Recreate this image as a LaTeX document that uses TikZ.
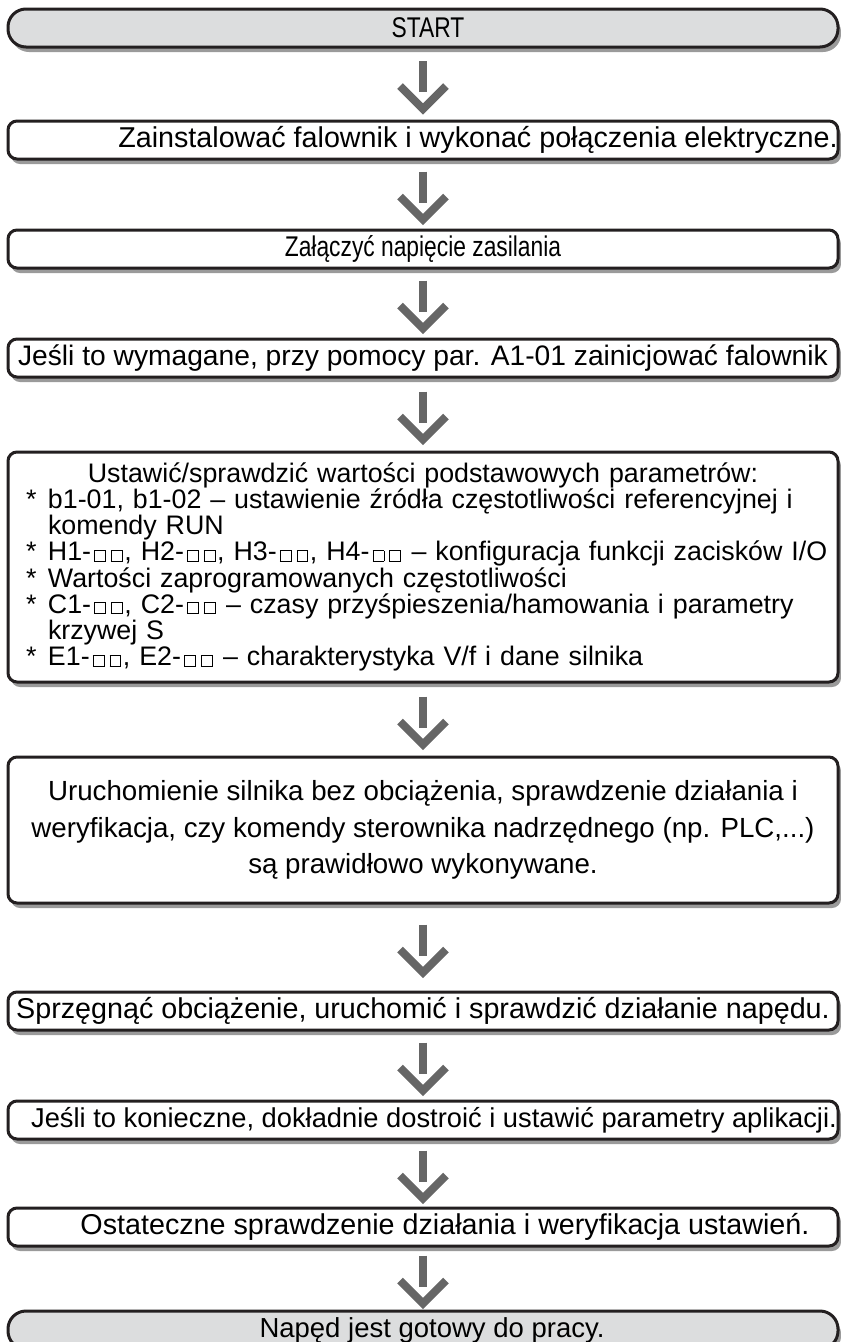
\documentclass[tikz,border=0pt]{standalone}
\usepackage{fontspec}
\setmainfont{Liberation Sans}
\newfontfamily\narrowfont{Liberation Sans}[FakeStretch=0.8]
\usetikzlibrary{calc,shadows}

\definecolor{boxline}{HTML}{231F20}
\definecolor{endfill}{HTML}{DCDDDE}
\definecolor{arrowgray}{HTML}{666666}
\definecolor{shadowgray}{HTML}{9A9A9A}

% puste pola parametru
\newcommand{\sqbox}{\hspace{3.2pt}{\setlength{\fboxsep}{0pt}\setlength{\fboxrule}{0.9pt}%
  \fbox{\rule{0pt}{10pt}\rule{10pt}{0pt}}}\hspace{1.6pt}}
\newcommand{\pp}{\sqbox\sqbox}
% pozycje listy
\newcommand{\itm}[1]{\par\noindent\hspace*{18pt}\makebox[22pt][l]{*}\mbox{#1}}
\newcommand{\cont}[1]{\par\noindent\hspace*{40pt}\mbox{#1}}
% tekst przesuniety w ramce
\newcommand{\shifted}[2]{\makebox[826pt]{\hspace*{#1}#2}}

\tikzset{
  stepbox/.style={draw=boxline, line width=3pt, rounded corners=9pt, fill=white,
    minimum width=830pt, minimum height=38pt, inner sep=0pt,
    font=\fontsize{28.7}{30}\selectfont,
    drop shadow={shadow xshift=3pt, shadow yshift=-5pt, fill=shadowgray, opacity=1}},
  endbox/.style={stepbox, fill=endfill, rounded corners=18pt},
  stem/.style={draw=arrowgray, line width=8pt},
  chevron/.style={draw=arrowgray, line width=8pt, miter limit=10}
}

% strzalka miedzy krokami
\newcommand{\stepto}[2]{%
  \path (#1.south) -- (#2.north) coordinate[midway] (m);
  \draw[stem] ($(m)+(0,-23)$) -- ($(m)+(0,8)$);
  \draw[chevron] ($(m)+(-23,2)$) -- ($(m)+(0,25)$) -- ($(m)+(23,2)$);
}

\begin{document}
\begin{tikzpicture}[x=1pt,y=-1pt]
\useasboundingbox (0,0) rectangle (841,1342);

% Kroki
\node[endbox, font=\narrowfont\fontsize{28.5}{30}\selectfont] (start) at (423,28)
  {\shifted{10pt}{START}};
\node[stepbox] (install) at (423,140)
  {\shifted{110pt}{Zainstalować falownik i wykonać połączenia elektryczne.}};
\node[stepbox, font=\narrowfont\fontsize{28.5}{30}\selectfont] (power) at (423,249)
  {Załączyć napięcie zasilania};
\node[stepbox, font=\fontsize{28.2}{30}\selectfont] (init) at (423,358)
  {Jeśli to wymagane, przy pomocy par. A1-01 zainicjować falownik};
\node[stepbox, minimum height=230pt, text width=830pt, align=left,
  font=\fontsize{26.8}{26.2}\selectfont] (params) at (423,567)
  {{\centering Ustawić/sprawdzić wartości podstawowych parametrów:\par}
   \itm{b1-01, b1-02 – ustawienie źródła częstotliwości referencyjnej i}
   \cont{komendy RUN}
   \itm{H1-\pp, H2-\pp, H3-\pp, H4-\pp{} – konfiguracja funkcji zacisków I/O}
   \itm{Wartości zaprogramowanych częstotliwości}
   \itm{C1-\pp, C2-\pp{} – czasy przyśpieszenia/hamowania i parametry}
   \cont{krzywej S}
   \itm{E1-\pp, E2-\pp{} – charakterystyka V/f i dane silnika}};
\node[stepbox, minimum height=146pt, align=center,
  font=\fontsize{27.7}{36.5}\selectfont] (test) at (423,830)
  {Uruchomienie silnika bez obciążenia, sprawdzenie działania i\\
   weryfikacja, czy komendy sterownika nadrzędnego (np. PLC,...)\\
   są prawidłowo wykonywane.};
\node[stepbox] (load) at (423,1011)
  {Sprzęgnąć obciążenie, uruchomić i sprawdzić działanie napędu.};
\node[stepbox, font=\fontsize{27.3}{29}\selectfont] (tune) at (423,1120)
  {\shifted{22pt}{Jeśli to konieczne, dokładnie dostroić i ustawić parametry aplikacji.}};
\node[stepbox] (check) at (423,1227)
  {\shifted{44pt}{Ostateczne sprawdzenie działania i weryfikacja ustawień.}};
\node[endbox, font=\fontsize{27.5}{29}\selectfont] (ready) at (423,1330)
  {\shifted{18pt}{Napęd jest gotowy do pracy.}};

% Strzalki
\stepto{start}{install}
\stepto{install}{power}
\stepto{power}{init}
\stepto{init}{params}
\stepto{params}{test}
\stepto{test}{load}
\stepto{load}{tune}
\stepto{tune}{check}
\stepto{check}{ready}
\end{tikzpicture}
\end{document}
